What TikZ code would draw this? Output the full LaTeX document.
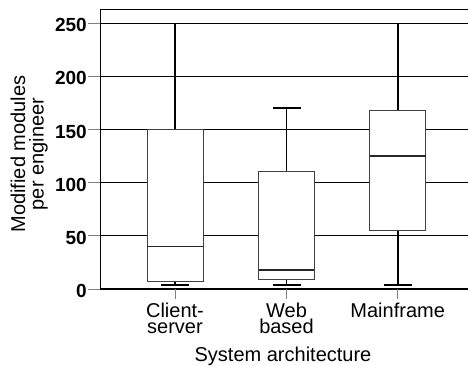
\documentclass[tikz,border=0pt]{standalone}
\usepackage{fontspec}
\setmainfont{Liberation Sans}
\begin{document}
\begin{tikzpicture}[x=1pt,y=1pt,
  gridln/.style={line width=1.2pt, black},
  frameln/.style={line width=1pt, black},
  whisk/.style={line width=1.6pt, black},
  boxst/.style={draw=black!75, line width=1pt, fill=white},
  medst/.style={draw=black!85, line width=1.3pt},
  tickst/.style={draw=black!50, line width=1pt},
  ticklab/.style={font=\fontsize{19}{22}\selectfont\bfseries, anchor=base east, inner sep=0pt},
  lab/.style={font=\fontsize{20}{22}\selectfont, anchor=base, inner sep=0pt},
  catlab/.style={font=\fontsize{20}{16.7}\selectfont, align=center, anchor=north, inner sep=0pt}]
\useasboundingbox (0,0) rectangle (468,365);
% frame
\draw[frameln] (100,355.5) -- (468,355.5);
\draw[frameln] (100,355.5) -- (100,76);
\begin{scope}[yshift=76pt, y=1.064pt]
  % gridlines, ticks, labels
  \foreach \v in {0,50,100,150,200} {
    \draw[gridln] (100,\v) -- (468,\v);
  }
  \draw[gridln, line width=0.9pt] (100,250) -- (468,250);
  \foreach \v in {0,50,100,150,200,250} {
    \draw[tickst] (88,\v) -- (100,\v);
  }
  \foreach \v/\n in {0/t0,50/t50,100/t100,150/t150,200/t200,250/t250} {
    \node[ticklab] (\n) at (87,\v-8.2) {\v};
  }
  % x ticks
  \foreach \cx in {175,286.5,397.7} {
    \draw[tickst] (\cx,0) -- (\cx,-9.6);
  }
  % Client-server
  \draw[whisk] (175,4) -- (175,250);
  \draw[whisk] (161,4) -- (189,4);
  \draw[whisk, line width=1pt] (161,250) -- (189,250);
  \draw[boxst] (147,7) rectangle (203,150);
  \draw[medst] (147,40) -- (203,40);
  % Web based
  \draw[whisk] (286.5,4) -- (286.5,170);
  \draw[whisk] (272.5,4) -- (300.5,4);
  \draw[whisk] (272.5,170) -- (300.5,170);
  \draw[boxst] (258.7,9) rectangle (314.3,110);
  \draw[medst] (258.7,18) -- (314.3,18);
  % Mainframe
  \draw[whisk] (397.7,4) -- (397.7,250);
  \draw[whisk] (383.7,4) -- (411.7,4);
  \draw[whisk, line width=1pt] (383.7,250) -- (411.7,250);
  \draw[boxst] (369.5,55) rectangle (425.5,168);
  \draw[medst] (369.5,125) -- (425.5,125);
\end{scope}
% axis labels
\node[catlab] (cs) at (175,62.4) {Client-\\server};
\node[catlab] (wb) at (286.5,62.4) {Web\\based};
\node[catlab] (mf) at (397.7,62.4) {Mainframe};
\node[lab] (xt) at (283,4) {System architecture};
\node[lab, rotate=90] (yt1) at (25,211) {Modified modules};
\node[lab, rotate=90] (yt2) at (43.5,211) {per engineer};
\end{tikzpicture}
\end{document}
